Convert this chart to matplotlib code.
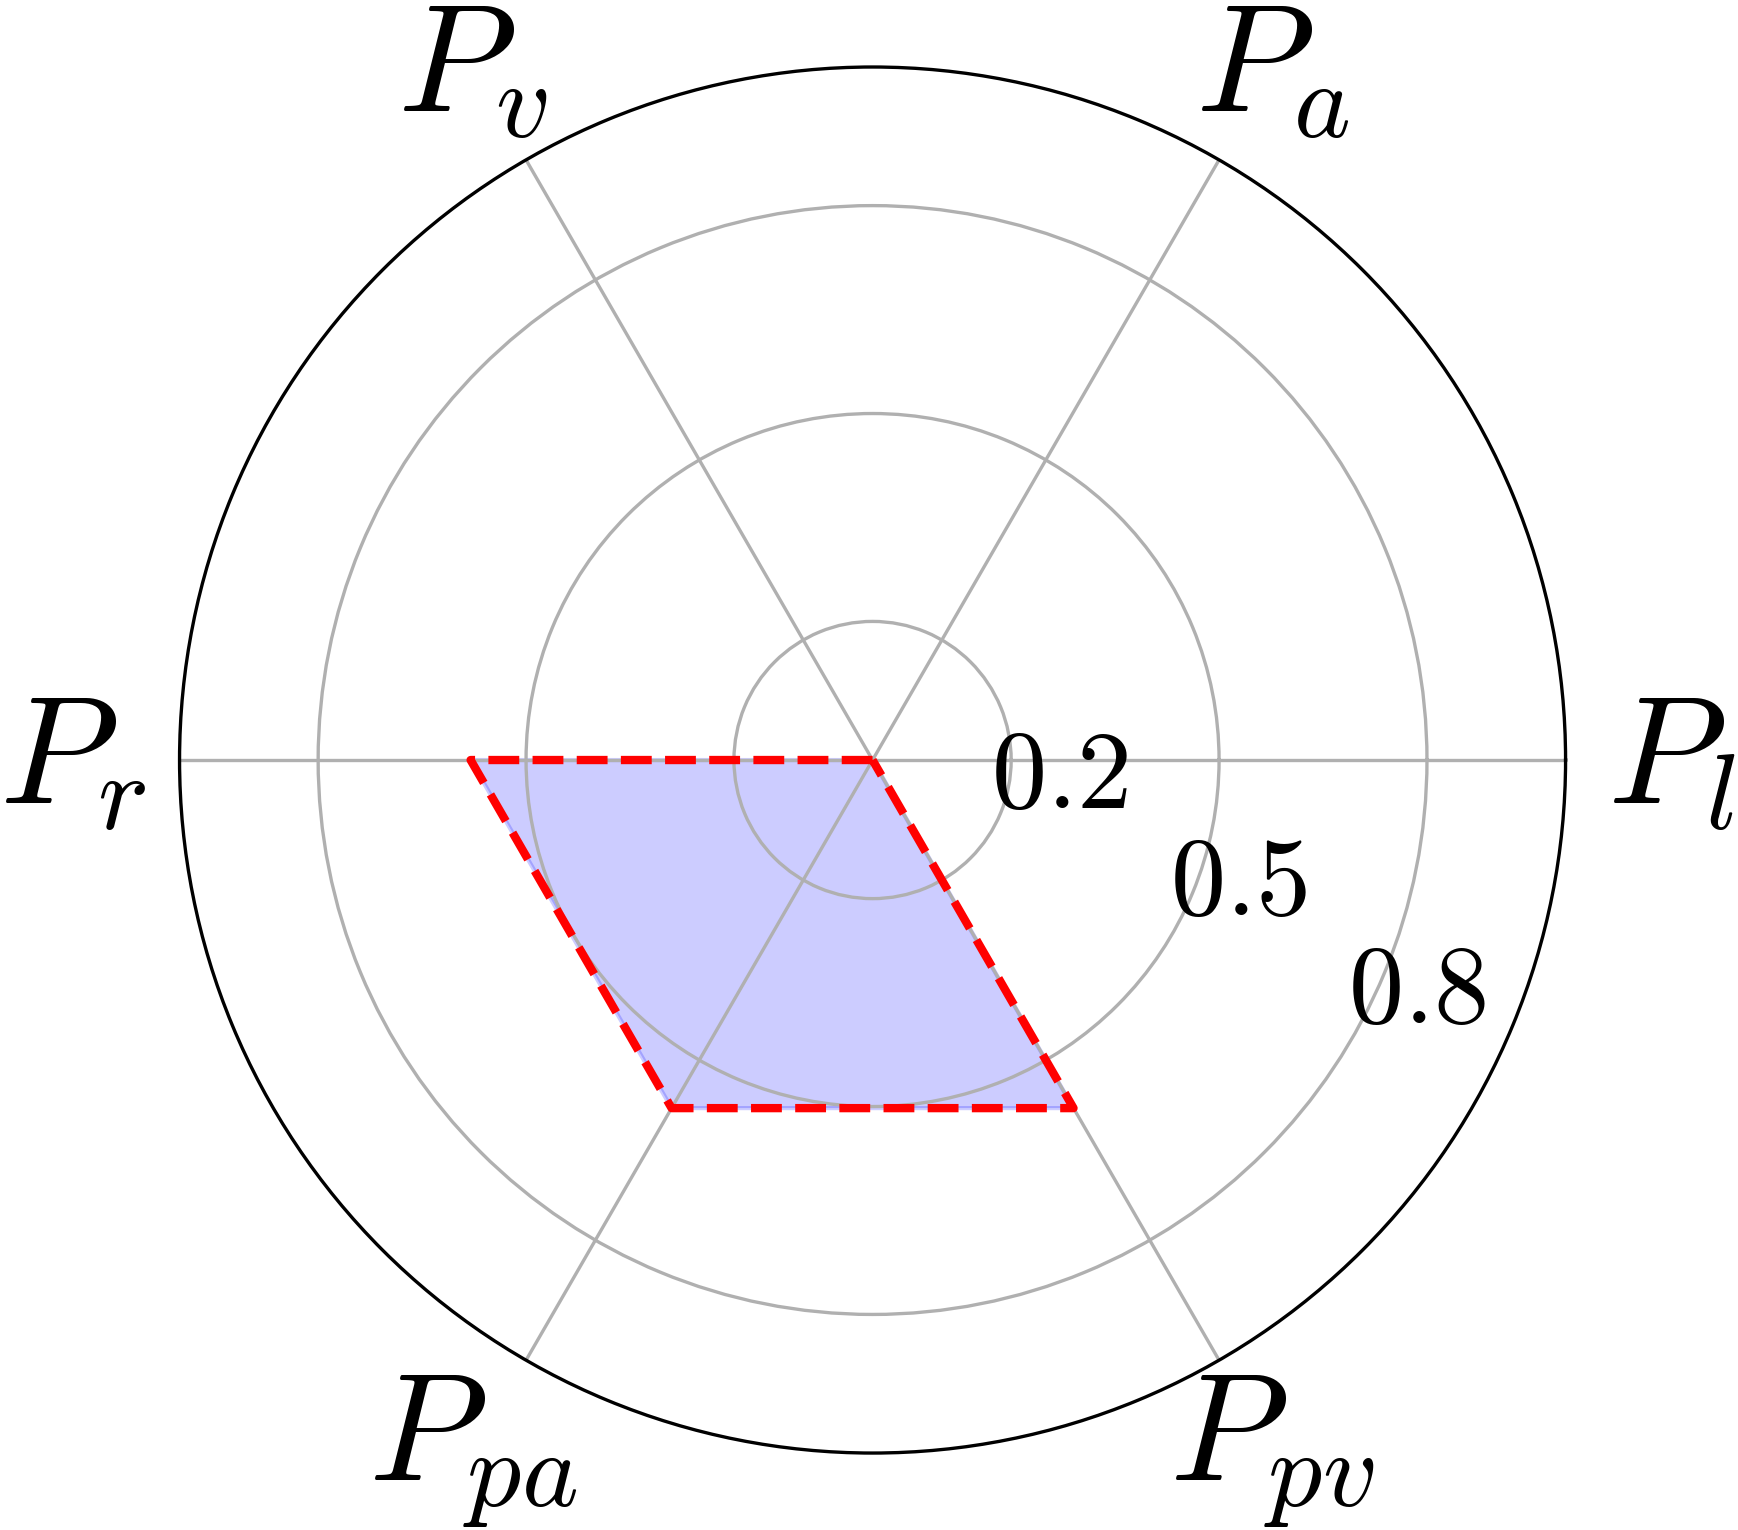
import numpy as np
import matplotlib
matplotlib.use("Agg")
import matplotlib.pyplot as plt

plt.rcParams['mathtext.fontset'] = 'cm'

labels = [r'$P_l$', r'$P_a$', r'$P_v$', r'$P_r$', r'$P_{pa}$', r'$P_{pv}$']
values = [0.0, 0.0, 0.0, 0.58, 0.58, 0.58]
rticks = [0.2, 0.5, 0.8]

angles = np.linspace(0, 2 * np.pi, len(labels), endpoint=False)
angles_closed = np.concatenate([angles, angles[:1]])
values_closed = values + values[:1]

fig = plt.figure(figsize=(1738 / 300, 1530 / 300), dpi=300)
ax = fig.add_axes([0.1033, 0.0503, 0.7975, 0.9059], polar=True)

ax.fill(angles_closed, values_closed, color='blue', alpha=0.2)
ax.plot(angles_closed, values_closed, '--', color='red', linewidth=2)

# Axes styling
ax.set_ylim(0, 1.0)
ax.set_xticks(angles)
ax.set_xticklabels(labels, fontsize=37)
ax.tick_params(axis='x', pad=15)
ax.set_yticks(rticks)
ax.set_yticklabels([f'${t}$' for t in rticks], fontsize=26.5)
ax.set_rlabel_position(-31)
ax.grid(True, color='#b0b0b0', linewidth=0.8)
ax.spines['polar'].set_linewidth(0.8)

fig.savefig('out.png', dpi=300)
